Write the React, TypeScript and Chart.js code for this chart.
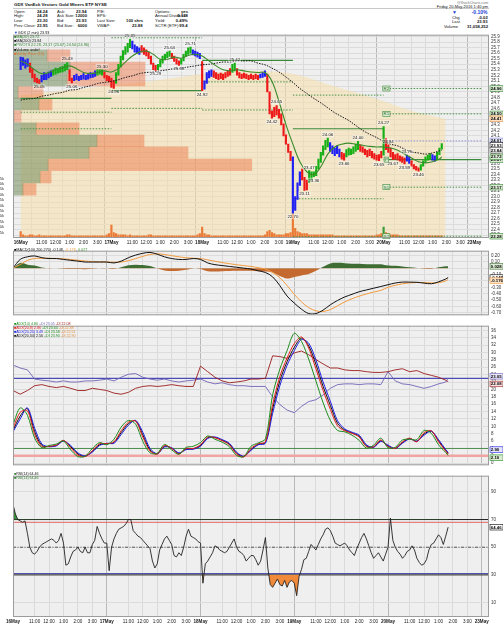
import React, { useEffect, useRef } from 'react';
import { Chart, registerables } from 'chart.js';

Chart.register(...registerables);

const FONT = "'Liberation Sans', Arial, sans-serif";
Chart.defaults.font.family = FONT;

/* ---------------- time axis ---------------- */
const DAY_LABELS = ['16May', '17May', '18May', '19May', '20May', '23May'];
const HOUR_LABELS = ['11:00', '12:00', '1:00', '2:00', '3:00'];
const HOUR_OFFSETS = [1.5, 2.5, 3.5, 4.5, 5.5];
const SESSION = 6.5; // trading hours per day
const X_MAX = 33;
const BARS_PER_DAY = [39, 39, 39, 39, 26]; // 10-minute bars
const SAMPLES_PER_DAY = [13, 13, 13, 13, 10]; // 30-minute samples
const LAST_HOUR = 4 + 10 / 60; // 1:40 pm

/* ---------------- price (10-minute bars) ---------------- */
const PRICE_HIGH = [
  25.53, 25.52, 25.48, 25.50, 25.42, 25.32, 25.22, 25.15, 25.12, 25.20, 25.25, 25.22, 25.26, 25.28, 25.30, 25.33, 25.32, 25.35, 25.36, 25.40, 25.43, 25.30, 25.15, 25.20, 25.22, 25.18, 25.20, 25.23, 25.20, 25.22, 25.25, 25.24, 25.28, 25.30, 25.30, 25.30, 25.26, 25.20, 25.18,
  25.15, 25.10, 25.25, 25.40, 25.55, 25.65, 25.72, 25.78, 25.85, 25.82, 25.75, 25.72, 25.70, 25.74, 25.70, 25.66, 25.62, 25.55, 25.42, 25.38, 25.40, 25.48, 25.55, 25.58, 25.62, 25.64, 25.60, 25.55, 25.50, 25.46, 25.50, 25.58, 25.64, 25.70, 25.71, 25.66, 25.64, 25.62, 25.60,
  25.45, 25.10, 25.25, 25.28, 25.30, 25.28, 25.25, 25.22, 25.24, 25.22, 25.25, 25.28, 25.32, 25.40, 25.42, 25.32, 25.25, 25.22, 25.24, 25.22, 25.20, 25.22, 25.20, 25.22, 25.20, 25.22, 25.25, 25.28, 25.22, 24.90, 24.55, 24.62, 24.65, 24.58, 24.50, 24.32, 24.12, 23.95, 23.82,
  23.72, 23.00, 23.25, 23.45, 23.50, 23.35, 23.30, 23.47, 23.45, 23.45, 23.55, 23.68, 23.80, 23.92, 24.02, 24.06, 23.98, 23.92, 23.88, 23.92, 23.86, 23.80, 23.78, 23.85, 23.88, 23.86, 23.90, 23.95, 24.00, 23.94, 23.90, 23.86, 23.84, 23.86, 23.82, 23.78, 23.75, 23.76, 23.82,
  24.27, 24.05, 23.94, 23.88, 23.80, 23.76, 23.78, 23.74, 23.72, 23.70, 23.75, 23.72, 23.65, 23.58, 23.55, 23.52, 23.58, 23.65, 23.72, 23.75, 23.78, 23.76, 23.74, 23.80, 23.88, 23.96,
];
const PRICE_LOW = [
  25.30, 25.38, 25.33, 25.36, 25.25, 25.15, 25.08, 25.06, 25.05, 25.08, 25.12, 25.12, 25.15, 25.18, 25.20, 25.22, 25.24, 25.25, 25.26, 25.28, 25.30, 25.10, 25.06, 25.10, 25.12, 25.10, 25.12, 25.13, 25.12, 25.13, 25.15, 25.16, 25.18, 25.20, 25.22, 25.20, 25.15, 25.10, 25.08,
  24.98, 24.96, 25.05, 25.20, 25.35, 25.48, 25.58, 25.62, 25.70, 25.68, 25.62, 25.60, 25.58, 25.62, 25.58, 25.55, 25.50, 25.40, 25.30, 25.29, 25.30, 25.35, 25.42, 25.48, 25.52, 25.54, 25.50, 25.45, 25.40, 25.38, 25.40, 25.46, 25.54, 25.58, 25.60, 25.57, 25.55, 25.53, 25.50,
  24.92, 24.95, 25.05, 25.15, 25.18, 25.16, 25.14, 25.12, 25.14, 25.12, 25.15, 25.18, 25.20, 25.25, 25.28, 25.20, 25.15, 25.14, 25.15, 25.14, 25.12, 25.14, 25.12, 25.14, 25.12, 25.15, 25.16, 25.18, 24.90, 24.50, 24.42, 24.45, 24.48, 24.42, 24.30, 24.10, 23.95, 23.80, 23.65,
  22.70, 22.75, 22.95, 23.20, 23.30, 23.11, 23.12, 23.25, 23.30, 23.36, 23.38, 23.50, 23.62, 23.75, 23.85, 23.90, 23.82, 23.78, 23.74, 23.78, 23.72, 23.68, 23.66, 23.72, 23.75, 23.76, 23.78, 23.82, 23.85, 23.82, 23.80, 23.76, 23.72, 23.74, 23.70, 23.68, 23.66, 23.65, 23.70,
  23.75, 23.85, 23.80, 23.72, 23.67, 23.68, 23.66, 23.64, 23.62, 23.59, 23.64, 23.60, 23.55, 23.50, 23.48, 23.46, 23.48, 23.55, 23.62, 23.66, 23.68, 23.66, 23.64, 23.68, 23.76, 23.86,
];
// Elder-impulse bar colours: g = green, r = red, b = blue
const IMPULSE =
  'bbbbrrrrrbbbbbgggggggrrbbbbbbbbbbgggrrr' +
  'rrgggggggbbbbrrrrrrrggggggrrrrgggggbbbb' +
  'rbbbbrrrrrrrrggrrrrrrrrrrbbbrrrrrrrrrrr' +
  'bbbbrrrgggggggggbbbbbrrggggggrrrrrrrrrr' +
  'grrrrrrrrrbbrrrrgggggbbggg';
const VOLUME_K = [
  6, 3, 2, 2, 3, 3, 2, 2, 3, 2, 2, 2, 2, 2, 2, 2, 2, 2, 2, 2, 3, 3, 2, 2, 2, 2, 2, 2, 2, 2, 2, 2, 2, 2, 2, 2, 2, 3, 4,
  12, 5, 4, 3, 3, 3, 3, 2, 3, 2, 2, 2, 2, 2, 2, 2, 3, 3, 2, 2, 2, 2, 2, 2, 2, 2, 2, 2, 2, 2, 2, 2, 2, 2, 2, 2, 2, 3, 4,
  10, 4, 3, 3, 2, 2, 2, 2, 2, 2, 2, 2, 2, 2, 2, 2, 2, 2, 2, 2, 2, 2, 2, 2, 2, 2, 2, 3, 6, 7, 5, 4, 3, 3, 3, 3, 4, 4, 5,
  22, 9, 6, 5, 4, 4, 4, 3, 3, 3, 3, 3, 3, 3, 3, 3, 3, 3, 2, 2, 2, 2, 2, 2, 2, 2, 2, 2, 2, 2, 2, 2, 2, 2, 2, 2, 3, 3, 4,
  10, 5, 4, 3, 3, 3, 3, 2, 2, 2, 2, 2, 2, 2, 2, 2, 2, 2, 2, 2, 2, 2, 2, 2, 2, 2,
];
const RSI_14 = [
  81, 74, 70, 69, 68, 69, 60, 50, 46, 45, 47, 50, 52, 53, 54, 55, 56, 55, 53, 55, 60, 53, 37, 38, 43, 47, 48, 50, 47, 46, 50, 46, 46, 52, 55, 65, 60, 56, 53,
  53, 33, 50, 56, 60, 63, 64, 65, 67, 70, 70, 62, 60, 58, 57, 55, 53, 51, 49, 40, 35, 38, 48, 52, 56, 58, 55, 52, 44, 43, 46, 44, 50, 58, 63, 58, 57, 56, 54,
  53, 24, 38, 40, 43, 46, 51, 50, 48, 47, 46, 47, 50, 53, 56, 50, 47, 46, 44, 40, 42, 44, 44, 41, 37, 40, 48, 57, 35, 23, 21, 24, 27, 23, 22, 26, 21, 25, 26,
  24, 15, 29, 34, 41, 42, 47, 52, 50, 48, 52, 56, 59, 63, 64, 62, 58, 53, 52, 51, 52, 53, 51, 48, 46, 44, 49, 53, 57, 60, 56, 51, 46, 42, 44, 46, 43, 40, 45,
  50, 71, 55, 50, 47, 45, 42, 44, 47, 48, 51, 48, 42, 39, 37, 38, 41, 48, 52, 53, 56, 59, 57, 52, 58, 64.46,
];

/* ---------------- 30-minute samples ---------------- */
const MA_20 = [
  25.46, 25.40, 25.30, 25.23, 25.25, 25.30, 25.33, 25.37, 25.32, 25.25, 25.23, 25.25, 25.28,
  25.26, 25.32, 25.44, 25.55, 25.62, 25.64, 25.58, 25.49, 25.49, 25.53, 25.51, 25.56, 25.58,
  25.55, 25.46, 25.37, 25.30, 25.28, 25.30, 25.28, 25.26, 25.25, 25.25, 25.09, 24.73, 24.31,
  23.95, 23.63, 23.45, 23.40, 23.54, 23.77, 23.90, 23.95, 23.97, 23.95, 23.93, 23.91, 23.90,
  23.90, 23.88, 23.84, 23.77, 23.70, 23.63, 23.61, 23.63, 23.68, 23.72,
];
const MA_200 = [
  24.75, 24.77, 24.78, 24.82, 24.84, 24.87, 24.89, 24.93, 24.94, 24.98, 25.01, 25.05, 25.07,
  25.09, 25.12, 25.16, 25.19, 25.23, 25.25, 25.26, 25.28, 25.30, 25.32, 25.33, 25.35, 25.37,
  25.39, 25.40, 25.42, 25.44, 25.44, 25.46, 25.46, 25.46, 25.42, 25.39, 25.33, 25.26, 25.17,
  25.07, 24.96, 24.87, 24.78, 24.70, 24.61, 24.52, 24.45, 24.38, 24.29, 24.20, 24.13, 24.07,
  24.00, 23.95, 23.92, 23.86, 23.81, 23.79, 23.77, 23.79, 23.83, 23.84,
];
const MACD_LINE = [
  0, 0.137, 0.178, 0.192, 0.164, 0.151, 0.151, 0.137, 0.123, 0.110, 0.096, 0.096, 0.096,
  0.096, 0.082, 0.110, 0.164, 0.205, 0.233, 0.247, 0.219, 0.178, 0.151, 0.137, 0.137, 0.151,
  0.137, 0.082, 0.055, 0.041, 0.027, 0.014, 0, -0.014, -0.041, -0.068, -0.137, -0.274, -0.438,
  -0.548, -0.644, -0.712, -0.712, -0.658, -0.575, -0.507, -0.452, -0.411, -0.370, -0.342, -0.315, -0.288,
  -0.260, -0.233, -0.219, -0.219, -0.222, -0.235, -0.245, -0.215, -0.170, -0.148,
];
const MACD_SIGNAL = [
  0, 0.055, 0.123, 0.151, 0.155, 0.155, 0.152, 0.146, 0.136, 0.124, 0.112, 0.104, 0.098,
  0.096, 0.094, 0.096, 0.118, 0.150, 0.185, 0.215, 0.226, 0.214, 0.196, 0.178, 0.163, 0.155,
  0.150, 0.130, 0.108, 0.088, 0.070, 0.054, 0.040, 0.026, 0.008, -0.015, -0.068, -0.150, -0.274,
  -0.411, -0.530, -0.620, -0.670, -0.680, -0.650, -0.590, -0.530, -0.480, -0.440, -0.405, -0.375, -0.350,
  -0.300, -0.270, -0.245, -0.232, -0.225, -0.225, -0.232, -0.228, -0.200, -0.176,
];
const ADX_GREEN = [
  10.5, 15.0, 13.0, 6.8, 4.2, 4.8, 5.2, 6.0, 3.6, 1.8, 1.9, 4.0, 5.6,
  5.0, 6.5, 9.8, 11.6, 10.6, 5.9, 2.8, 2.7, 5.1, 3.6, 2.4, 4.3, 4.6,
  5.6, 7.4, 6.5, 5.7, 4.5, 2.1, 1.8, 4.6, 5.5, 6.6, 18.5, 25.5, 30.5,
  35.2, 33.0, 28.2, 22.3, 16.4, 11.6, 8.9, 8.5, 7.6, 6.2, 4.1, 4.9, 6.8,
  4.2, 4.3, 6.3, 6.5, 6.4, 8.9, 8.1, 5.0, 2.9, 2.1,
];
const ADX_RED = [
  9.5, 13.8, 14.2, 7.8, 4.5, 4.6, 4.9, 6.2, 4.2, 2.2, 1.8, 3.4, 5.3,
  5.3, 5.8, 8.8, 11.1, 11.4, 7.1, 3.3, 2.5, 4.8, 4.0, 2.5, 4.0, 4.0,
  5.0, 7.1, 6.9, 6.1, 5.0, 2.5, 1.7, 4.0, 5.3, 5.8, 15.9, 23.5, 28.5,
  32.4, 34.2, 31.2, 25.6, 19.7, 14.6, 10.1, 8.8, 8.1, 7.1, 4.5, 4.5, 6.3,
  4.5, 4.0, 5.8, 6.8, 5.8, 8.3, 8.8, 5.8, 3.3, 2.5,
];
const ADX_BLUE = [
  8.5, 12.0, 15.0, 9.5, 5.2, 4.5, 4.7, 6.0, 4.8, 2.8, 2.0, 3.0, 4.8,
  5.4, 5.4, 7.8, 10.3, 11.6, 8.4, 4.0, 2.6, 4.4, 4.2, 2.8, 3.7, 3.8,
  4.6, 6.7, 7.1, 6.4, 5.4, 3.0, 1.9, 3.5, 5.0, 5.4, 13.5, 21.0, 26.5,
  30.5, 33.5, 32.5, 28.0, 22.0, 16.8, 11.5, 9.3, 8.4, 7.6, 5.0, 4.3, 5.9,
  4.9, 4.0, 5.4, 6.6, 6.0, 7.6, 8.7, 6.4, 3.7, 2.9,
];
const ADX_BLACK = [
  8.8, 12.8, 14.8, 8.6, 4.8, 4.5, 4.8, 6.1, 4.5, 2.5, 1.9, 3.2, 5.0,
  5.3, 5.6, 8.3, 10.7, 11.5, 7.7, 3.6, 2.5, 4.6, 4.1, 2.6, 3.8, 3.9,
  4.8, 6.9, 7.0, 6.2, 5.2, 2.7, 1.8, 3.7, 5.1, 5.6, 14.7, 22.3, 27.5,
  31.4, 33.9, 31.8, 26.8, 20.8, 15.7, 10.8, 9.0, 8.2, 7.3, 4.7, 4.4, 6.1,
  4.7, 4.0, 5.6, 6.7, 5.9, 7.9, 8.7, 6.1, 3.5, 2.7,
];
const PLUS_DI = [
  26.6, 25.8, 25.3, 22.8, 22.5, 22.3, 22.0, 22.3, 22.0, 22.0, 22.3, 22.3, 22.5,
  22.8, 22.3, 23.3, 24.1, 24.3, 23.3, 22.8, 22.5, 22.8, 22.3, 22.0, 22.3, 22.5,
  22.8, 22.0, 21.5, 21.8, 21.3, 21.0, 21.0, 20.8, 20.8, 20.8, 18.0, 15.9, 14.4,
  13.7, 15.4, 16.7, 17.2, 18.5, 20.3, 21.3, 21.5, 21.5, 21.3, 21.5, 21.5, 21.3,
  24.8, 22.3, 21.5, 21.3, 20.8, 20.3, 20.8, 21.5, 22.0, 23.05,
];
const MINUS_DI = [
  19.7, 18.7, 19.7, 21.0, 21.3, 20.8, 20.5, 20.8, 20.3, 19.7, 19.7, 20.3, 20.0,
  19.7, 19.0, 18.7, 19.2, 20.3, 20.8, 21.0, 20.8, 21.0, 21.3, 21.0, 20.8, 20.8,
  26.3, 24.8, 23.3, 22.3, 21.8, 22.0, 22.3, 22.8, 22.8, 23.0, 29.1, 28.9, 28.4,
  29.9, 30.4, 29.4, 28.1, 26.9, 25.8, 25.8, 25.3, 25.1, 25.1, 24.8, 24.6, 24.6,
  24.8, 25.3, 25.6, 24.8, 25.1, 24.3, 23.8, 23.3, 22.5, 22.08,
];

/* ---------------- shaded price area (hours, price) ---------------- */
const SHADE_T = [0, 8.2, 16.44, 19.42, 22.2, 25.66, 28.02, 30.44];
const SHADE_V = [24.84, 25.06, 25.28, 25.23, 25.02, 24.76, 24.55, 24.41];

/* ---------------- volume by price ---------------- */
const VBP_CENTER = [23.01, 23.26, 23.51, 23.76, 24.00, 24.25, 24.50, 24.75, 24.99, 25.24, 25.49, 25.74];
const VBP_UP = [1.05, 2.84, 3.68, 7.98, 8.82, 2.42, 0.1, 2.73, 0.53, 5.67, 5.99, 3.57];
const VBP_DOWN = [1.37, 1.16, 21.4, 10.4, 4.94, 4.52, 0.74, 1.37, 2.63, 8.19, 7.88, 2.42];

/* ---------------- pivot lines ---------------- */
const PIVOT_DAY = [0, 0, 0, 1, 1, 1, 2, 2, 2, 3, 3, 3, 3, 4, 4, 4, 4, 4];
const PIVOT_VALUE = [24.78, 24.53, 24.23, 25.88, 24.92, 24.60, 25.47, 25.08, 24.57, 24.84, 24.23, 22.96, 22.27, 24.96, 24.50, 23.67, 23.17, 22.28];
const PIVOT_SOLID = [1, 0, 0, 0, 1, 0, 1, 0, 0, 0, 1, 0, 0, 0, 0, 1, 0, 0];
const PIVOT_NAMES = ['R2', 'R1', 'P', 'S1', 'S2'];
const PREV_CLOSE = 24.01;
const LAST_PRICE = 23.93;

// [day, minutes after open, price, above(1)/below(0)]
const PRICE_NOTES = [
  [0, 80, 25.05, 0], [0, 200, 25.43, 1], [0, 220, 25.06, 0], [0, 350, 25.30, 1],
  [1, 10, 24.96, 0], [1, 80, 25.85, 1], [1, 190, 25.29, 0], [1, 250, 25.64, 1], [1, 290, 25.38, 0], [1, 340, 25.71, 1],
  [2, 0, 24.92, 0], [2, 140, 25.42, 1], [2, 300, 24.42, 0], [2, 320, 24.65, 1],
  [3, 0, 22.70, 0], [3, 50, 23.11, 0], [3, 70, 23.47, 1], [3, 90, 23.36, 0], [3, 150, 24.06, 1], [3, 220, 23.66, 0], [3, 280, 24.00, 1], [3, 370, 23.65, 0],
  [4, 0, 24.27, 1], [4, 20, 23.94, 1], [4, 40, 23.67, 0], [4, 90, 23.59, 0], [4, 100, 23.75, 1], [4, 150, 23.46, 0],
];

/* ---------------- axis ticks ---------------- */
const PRICE_TICKS = [22.3, 22.4, 22.5, 22.6, 22.7, 22.8, 22.9, 23.0, 23.1, 23.2, 23.3, 23.4, 23.5, 23.6, 23.7, 23.8, 23.9, 24.0, 24.1, 24.2, 24.3, 24.4, 24.5, 24.6, 24.7, 24.8, 24.9, 25.0, 25.1, 25.2, 25.3, 25.4, 25.5, 25.6, 25.7, 25.8, 25.9];
const VOL_TICKS = [5, 10, 15, 20, 25, 30, 35, 40, 45, 50, 55];
const MACD_TICKS = [-0.7, -0.6, -0.5, -0.4, -0.3, -0.2, -0.1, 0, 0.1, 0.2];
const ADX_TICKS = [0, 2, 4, 6, 8, 10, 12, 14, 16, 18, 20, 22, 24, 26, 28, 30, 32, 34, 36];
const RSI_TICKS = [10, 30, 50, 70, 90];
const ADX_LEVELS = [23, 4, 2];
const RSI_LEVELS = [70, 68, 50, 31, 30];

/* ---------------- derived series ---------------- */
const BAR_T: number[] = [];
BARS_PER_DAY.forEach((n, d) => { for (let i = 0; i < n; i++) BAR_T.push(d * SESSION + i / 6); });
const SAMPLE_T: number[] = [];
SAMPLES_PER_DAY.forEach((n, d) => {
  for (let k = 0; k < n; k++) SAMPLE_T.push(d * SESSION + (d === 4 && k === n - 1 ? LAST_HOUR : k * 0.5));
});
const MACD_HIST = MACD_LINE.map((v, i) => v - MACD_SIGNAL[i]);
const pts = (ts: number[], vs: number[]) => vs.map((v, i) => ({ x: ts[i], y: v }));

const X_TICKS: number[] = [];
DAY_LABELS.forEach((_, d) => {
  X_TICKS.push(d * SESSION);
  if (d < DAY_LABELS.length - 1) HOUR_OFFSETS.forEach((h) => X_TICKS.push(d * SESSION + h));
});
const isDay = (v: number) => v !== undefined && Math.abs(v / SESSION - Math.round(v / SESSION)) < 1e-6;
function xLabel(v: number) {
  const d = Math.round(v / SESSION);
  if (isDay(v)) return DAY_LABELS[d] || '';
  const dd = Math.floor(v / SESSION);
  const k = HOUR_OFFSETS.findIndex((h) => Math.abs(dd * SESSION + h - v) < 1e-6);
  return k >= 0 ? HOUR_LABELS[k] : '';
}

/* ---------------- colours ---------------- */
const C = {
  panel: '#efefef',
  grid: '#dcdcdc',
  green: '#3b8a3b',
  impulse: { g: '#16b016', r: '#ee1818', b: '#2020f4' } as any,
};

/* ---------------- plugins ---------------- */
function panelPlugin(o: any) {
  return {
    id: 'panel',
    beforeDraw(chart: any) {
      const { ctx, chartArea: a } = chart;
      ctx.save();
      ctx.fillStyle = o.bg;
      ctx.fillRect(a.left, a.top, a.right - a.left, a.bottom - a.top);
      ctx.restore();
    },
    afterDatasetsDraw(chart: any) {
      const notes = o.notes || [];
      if (!notes.length) return;
      const { ctx } = chart;
      const xs = chart.scales.x;
      const ys = chart.scales[o.yId || 'y'];
      ctx.save();
      ctx.font = `4.4px ${FONT}`;
      ctx.textAlign = 'center';
      ctx.textBaseline = 'middle';
      for (const n of notes) {
        const x = xs.getPixelForValue(n.t);
        const yv = ys.getPixelForValue(n.v);
        const w = ctx.measureText(n.text).width + 1.6;
        const h = 5;
        const y = n.pos === 'a' ? yv - 1 - h : n.pos === 'b' ? yv + 1 : yv - h / 2;
        ctx.fillStyle = n.box ? '#dcebd4' : 'rgba(255,255,255,0.45)';
        ctx.fillRect(x - w / 2, y, w, h);
        if (n.box) {
          ctx.strokeStyle = n.box;
          ctx.lineWidth = 0.6;
          ctx.strokeRect(x - w / 2, y, w, h);
        }
        ctx.fillStyle = n.color || '#222';
        ctx.fillText(n.text, x, y + h / 2 + 0.2);
      }
      ctx.restore();
    },
    afterDraw(chart: any) {
      const { ctx, chartArea: a } = chart;
      const ys = chart.scales[o.yId || 'y'];
      ctx.save();
      ctx.strokeStyle = '#9c9c9c';
      ctx.lineWidth = 1;
      ctx.strokeRect(a.left + 0.5, a.top + 0.5, a.right - a.left - 1, a.bottom - a.top - 1);
      ctx.font = `bold 4.3px ${FONT}`;
      ctx.textAlign = 'left';
      ctx.textBaseline = 'middle';
      for (const tg of o.tags || []) {
        const y = ys.getPixelForValue(tg.v);
        ctx.fillStyle = tg.bg;
        ctx.fillRect(a.right + 1, y - 2.8, 13, 5.6);
        ctx.strokeStyle = tg.border || '#000';
        ctx.lineWidth = 0.6;
        ctx.strokeRect(a.right + 1, y - 2.8, 13, 5.6);
        ctx.fillStyle = tg.fg || '#000';
        ctx.fillText(tg.text, a.right + 1.8, y + 0.3);
      }
      ctx.restore();
    },
  };
}

/* ---------------- scale helpers ---------------- */
function makeX(showLabels: boolean) {
  return {
    type: 'linear', axis: 'x', position: 'bottom', min: 0, max: X_MAX,
    afterBuildTicks: (s: any) => { s.ticks = X_TICKS.map((v) => ({ value: v })); },
    ticks: {
      display: showLabels, autoSkip: false, maxRotation: 0, minRotation: 0, padding: 1.5, color: '#222',
      font: (c: any) => ({ family: FONT, size: 4.6, weight: c.tick && isDay(c.tick.value) ? 'bold' : 'normal' }),
      callback: (v: any) => xLabel(Number(v)),
    },
    grid: { drawTicks: false, lineWidth: 1, color: (c: any) => (c.tick && isDay(c.tick.value) ? '#b9b9b9' : '#dadada') },
    border: { display: false },
    afterFit: (s: any) => { s.height = showLabels ? 8 : 0; },
  };
}
function makeY(min: number, max: number, ticks: number[], fmt: (v: number) => string, grid = true) {
  return {
    type: 'linear', axis: 'y', position: 'right', min, max,
    afterBuildTicks: (s: any) => { s.ticks = ticks.map((v) => ({ value: v })); },
    ticks: { autoSkip: false, padding: 2, color: '#333', font: { family: FONT, size: 4.5 }, callback: (v: any) => fmt(Number(v)) },
    grid: { display: grid, drawTicks: false, color: C.grid, lineWidth: 1 },
    border: { display: false },
    afterFit: (s: any) => { s.width = 14; },
  };
}
const hLine = (t0: number, t1: number, v: number, color: string, width: number, dash: number[], order: number, yAxisID = 'y') => ({
  type: 'line', data: [{ x: t0, y: v }, { x: t1, y: v }], borderColor: color, borderWidth: width, borderDash: dash,
  pointRadius: 0, fill: false, order, xAxisID: 'x', yAxisID,
});
const baseOptions = (padLeft: number) => ({
  responsive: false, animation: false, maintainAspectRatio: false, events: [],
  layout: { padding: { left: padLeft, right: 0, top: 0, bottom: 0 }, autoPadding: false },
  plugins: { legend: { display: false }, tooltip: { enabled: false } },
  elements: { point: { radius: 0 } },
});

/* ---------------- panel geometry ---------------- */
const W = 503;
const MAIN = { top: 30, h: 216, min: 22.248, max: 25.936 };
const MACD = { top: 246, h: 74, min: -0.740, max: 0.274 };
const ADX = { top: 321, h: 149, min: -0.56, max: 37.26 };
const RSI = { top: 471, h: 154, min: -0.42, max: 101.68 };
const VOL_MAX = 187.6;
const VBP_MAX = 50;

/* ---------------- configs ---------------- */
function mainConfig(): any {
  const greenTag = (v: number) => ({ v, text: v.toFixed(2), bg: '#dcebd4', border: C.green });
  const day4Pivots = PIVOT_VALUE.filter((_, i) => PIVOT_DAY[i] === 4);
  const tags = [
    ...day4Pivots.map(greenTag),
    { v: SHADE_V[SHADE_V.length - 1], text: SHADE_V[SHADE_V.length - 1].toFixed(2), bg: '#fde3c8', border: '#e28a3c' },
    { v: PREV_CLOSE, text: PREV_CLOSE.toFixed(2), bg: '#e8e8fb', border: '#8c8cdc' },
    { v: LAST_PRICE, text: LAST_PRICE.toFixed(2), bg: '#ffffff', border: '#000' },
    { v: MA_200[MA_200.length - 1], text: MA_200[MA_200.length - 1].toFixed(2), bg: '#f4f4f4', border: '#555' },
    greenTag(MA_20[MA_20.length - 1]),
  ];
  const notes: any[] = PRICE_NOTES.map(([d, m, v, a]) => ({ t: d * SESSION + m / 60, v, text: v.toFixed(2), pos: a ? 'a' : 'b' }));
  day4Pivots.forEach((v, i) => notes.push({ t: 4 * SESSION + 0.2, v, text: PIVOT_NAMES[i], pos: 'm', box: C.green, color: '#2d6e2d' }));

  const pivots = PIVOT_VALUE.map((v, i) => {
    const d = PIVOT_DAY[i];
    const t1 = d === 4 ? X_MAX : (d + 1) * SESSION;
    return hLine(d * SESSION, t1, v, C.green, PIVOT_SOLID[i] ? 1.2 : 0.9, PIVOT_SOLID[i] ? [] : [1.5, 1.5], 30);
  });

  return {
    type: 'line',
    data: {
      datasets: [
        { type: 'line', label: 'MA(20)', data: pts(SAMPLE_T, MA_20), borderColor: '#3a8a2a', borderWidth: 1.1, tension: 0.35, pointRadius: 0, fill: false, order: 10, xAxisID: 'x', yAxisID: 'y' },
        { type: 'line', label: 'MA(200)', data: pts(SAMPLE_T, MA_200), borderColor: '#1a1a1a', borderWidth: 1, borderDash: [1.5, 1.2], tension: 0.35, pointRadius: 0, fill: false, order: 11, xAxisID: 'x', yAxisID: 'y' },
        {
          type: 'bar', label: 'GDX', data: BAR_T.map((t, i) => ({ x: t, y: [PRICE_LOW[i], PRICE_HIGH[i]] })),
          backgroundColor: BAR_T.map((_, i) => C.impulse[IMPULSE[i]]), barThickness: 1.5, grouped: false, order: 20, xAxisID: 'x', yAxisID: 'y',
        },
        ...pivots,
        hLine(4 * SESSION, X_MAX, PREV_CLOSE, '#8c8cdc', 0.9, [1.5, 1.5], 29),
        {
          type: 'bar', label: 'Volume', data: BAR_T.map((t, i) => ({ x: t, y: VOLUME_K[i] })),
          backgroundColor: BAR_T.map((t) => (Math.abs(t - 4 * SESSION) < 1e-6 ? '#3a9a3a' : '#ea7a35')),
          barThickness: 1.5, grouped: false, order: 35, xAxisID: 'x', yAxisID: 'yvol',
        },
        {
          type: 'bar', label: 'VBP up', indexAxis: 'y', data: VBP_CENTER.map((c, i) => ({ x: VBP_UP[i], y: c })), stack: 'vbp', grouped: false,
          backgroundColor: 'rgba(96,126,72,0.48)', barPercentage: 1, categoryPercentage: 1, order: 40, xAxisID: 'xv', yAxisID: 'yv',
        },
        {
          type: 'bar', label: 'VBP down', indexAxis: 'y', data: VBP_CENTER.map((c, i) => ({ x: VBP_DOWN[i], y: c })), stack: 'vbp', grouped: false,
          backgroundColor: 'rgba(238,112,62,0.45)', barPercentage: 1, categoryPercentage: 1, order: 41, xAxisID: 'xv', yAxisID: 'yv',
        },
        {
          type: 'line', label: 'area', data: pts(SHADE_T, SHADE_V), borderWidth: 0, borderColor: 'rgba(0,0,0,0)',
          backgroundColor: 'rgba(246,222,170,0.55)', fill: 'start', cubicInterpolationMode: 'monotone', pointRadius: 0, order: 50, xAxisID: 'x', yAxisID: 'y',
        },
      ],
    },
    options: {
      ...baseOptions(0),
      scales: {
        x: makeX(true),
        xv: { type: 'linear', axis: 'x', position: 'bottom', display: false, min: 0, max: VBP_MAX },
        y: makeY(MAIN.min, MAIN.max, PRICE_TICKS, (v) => v.toFixed(1)),
        yv: { type: 'linear', axis: 'y', position: 'right', display: false, min: MAIN.min, max: MAIN.max },
        yvol: {
          type: 'linear', axis: 'y', position: 'left', min: 0, max: VOL_MAX,
          afterBuildTicks: (s: any) => { s.ticks = VOL_TICKS.map((v) => ({ value: v })); },
          ticks: { autoSkip: false, padding: 1, color: '#333', font: { family: FONT, size: 4 }, callback: (v: any) => `${v}k` },
          grid: { display: false }, border: { display: false },
          afterFit: (s: any) => { s.width = 13; },
        },
      },
    },
    plugins: [panelPlugin({ bg: C.panel, tags, notes })],
  };
}

function macdConfig(): any {
  return {
    type: 'line',
    data: {
      datasets: [
        { label: 'MACD', data: pts(SAMPLE_T, MACD_LINE), borderColor: '#111', borderWidth: 1, tension: 0.35, pointRadius: 0, fill: false, order: 1 },
        { label: 'Signal', data: pts(SAMPLE_T, MACD_SIGNAL), borderColor: '#f39a3c', borderWidth: 1, tension: 0.35, pointRadius: 0, fill: false, order: 2 },
        {
          label: 'Histogram', data: pts(SAMPLE_T, MACD_HIST), borderWidth: 0, borderColor: 'rgba(0,0,0,0)', tension: 0.35, pointRadius: 0,
          fill: { target: 'origin', above: '#3e6d33', below: '#c4692f' }, order: 3,
        },
      ],
    },
    options: {
      ...baseOptions(13),
      scales: { x: makeX(false), y: makeY(MACD.min, MACD.max, MACD_TICKS, (v) => v.toFixed(2)) },
    },
    plugins: [panelPlugin({
      bg: C.panel,
      tags: [
        { v: MACD_HIST[MACD_HIST.length - 1], text: MACD_HIST[MACD_HIST.length - 1].toFixed(3), bg: '#dcebd4', border: '#3e6d33' },
        { v: MACD_LINE[MACD_LINE.length - 1], text: MACD_LINE[MACD_LINE.length - 1].toFixed(3), bg: '#fff', border: '#000' },
        { v: MACD_SIGNAL[MACD_SIGNAL.length - 1] - 0.02, text: MACD_SIGNAL[MACD_SIGNAL.length - 1].toFixed(3), bg: '#fde3c8', border: '#f39a3c' },
      ],
    })],
  };
}

function adxConfig(): any {
  const line = (label: string, data: number[], color: string, width: number, order: number, tension = 0.3) => ({
    label, data: pts(SAMPLE_T, data), borderColor: color, borderWidth: width, tension, pointRadius: 0, fill: false, order,
  });
  const levelColors = ['#4b4bb4', '#4c8c4c', '#f2a3a3'];
  const levelWidths = [1.3, 1, 2.5];
  return {
    type: 'line',
    data: {
      datasets: [
        line('ADX green', ADX_GREEN, '#1e8c1e', 1, 1),
        line('ADX red', ADX_RED, '#e41e1e', 1, 2),
        line('ADX blue', ADX_BLUE, '#1e1ee4', 1, 3),
        line('ADX black', ADX_BLACK, '#111', 1, 4),
        line('+DI', PLUS_DI, '#7064b8', 0.9, 6, 0),
        line('-DI', MINUS_DI, '#9b1c1c', 0.9, 5, 0),
        ...ADX_LEVELS.map((v, i) => hLine(0, X_MAX, v, levelColors[i], levelWidths[i], [], 10 + i)),
      ],
    },
    options: {
      ...baseOptions(13),
      scales: { x: makeX(false), y: makeY(ADX.min, ADX.max, ADX_TICKS, (v) => String(v)) },
    },
    plugins: [panelPlugin({
      bg: C.panel,
      tags: [
        { v: PLUS_DI[PLUS_DI.length - 1] + 0.5, text: PLUS_DI[PLUS_DI.length - 1].toFixed(2), bg: '#e8e6fb', border: '#7064b8' },
        { v: MINUS_DI[MINUS_DI.length - 1] - 0.6, text: MINUS_DI[MINUS_DI.length - 1].toFixed(2), bg: '#fbe0e0', border: '#9b1c1c' },
        { v: ADX_BLUE[ADX_BLUE.length - 1] + 0.8, text: ADX_BLUE[ADX_BLUE.length - 1].toFixed(2), bg: '#e4e4fb', border: '#1e1ee4' },
        { v: ADX_GREEN[ADX_GREEN.length - 1] - 0.6, text: ADX_GREEN[ADX_GREEN.length - 1].toFixed(2), bg: '#dcebd4', border: '#1e8c1e' },
      ],
    })],
  };
}

function rsiConfig(): any {
  const levelColors = ['#222', '#e06666', '#555', '#5050b0', '#222'];
  const levelDash = [[], [], [3, 1.5, 1, 1.5], [], []];
  return {
    type: 'line',
    data: {
      datasets: [
        {
          label: 'RSI', data: pts(BAR_T, RSI_14), borderColor: '#222', borderWidth: 0.9, tension: 0, pointRadius: 0,
          fill: { target: { value: 30 }, above: 'rgba(0,0,0,0)', below: '#f08a3a' }, order: 1,
        },
        {
          label: 'RSI>70', data: pts(BAR_T, RSI_14), borderWidth: 0, borderColor: 'rgba(0,0,0,0)', tension: 0, pointRadius: 0,
          fill: { target: { value: 70 }, above: '#3c8c3c', below: 'rgba(0,0,0,0)' }, order: 2,
        },
        ...RSI_LEVELS.map((v, i) => hLine(0, X_MAX, v, levelColors[i], 1, levelDash[i], 10 + i)),
      ],
    },
    options: {
      ...baseOptions(13),
      scales: { x: makeX(true), y: makeY(RSI.min, RSI.max, RSI_TICKS, (v) => String(v)) },
    },
    plugins: [panelPlugin({
      bg: C.panel,
      tags: [{ v: RSI_14[RSI_14.length - 1], text: RSI_14[RSI_14.length - 1].toFixed(2), bg: '#fff', border: '#000' }],
    })],
  };
}

/* ---------------- tiny text ---------------- */
function T(p: { x: number; y: number; s?: number; c?: string; b?: boolean; r?: boolean; children: any }) {
  const k = 3;
  const s = p.s || 4.2;
  const style: any = {
    position: 'absolute', top: p.y, whiteSpace: 'nowrap', fontFamily: FONT, fontSize: s * k, lineHeight: 1,
    color: p.c || '#111', fontWeight: p.b ? 'bold' : 'normal', transform: `scale(${1 / k})`,
  };
  if (p.r) { style.right = W - p.x; style.transformOrigin = '100% 0'; } else { style.left = p.x; style.transformOrigin = '0 0'; }
  return <div style={style}>{p.children}</div>;
}
const Sq = ({ c }: { c: string }) => <span style={{ color: c }}>■</span>;

export default function App() {
  const mainRef = useRef<HTMLCanvasElement>(null);
  const macdRef = useRef<HTMLCanvasElement>(null);
  const adxRef = useRef<HTMLCanvasElement>(null);
  const rsiRef = useRef<HTMLCanvasElement>(null);

  useEffect(() => {
    const charts = [
      new Chart(mainRef.current as HTMLCanvasElement, mainConfig()),
      new Chart(macdRef.current as HTMLCanvasElement, macdConfig()),
      new Chart(adxRef.current as HTMLCanvasElement, adxConfig()),
      new Chart(rsiRef.current as HTMLCanvasElement, rsiConfig()),
    ];
    return () => charts.forEach((c) => c.destroy());
  }, []);

  const cv = (top: number, h: number) => ({ position: 'absolute' as const, left: 0, top, width: W, height: h });
  const rowY = [9.5, 14.3, 19.1, 23.9];

  return (
    <div style={{ position: 'absolute', left: 0, top: 0, width: W, height: 625, background: '#fff', overflow: 'hidden' }}>
      <canvas ref={mainRef} width={W} height={MAIN.h} style={cv(MAIN.top, MAIN.h)} />
      <canvas ref={macdRef} width={W} height={MACD.h} style={cv(MACD.top, MACD.h)} />
      <canvas ref={adxRef} width={W} height={ADX.h} style={cv(ADX.top, ADX.h)} />
      <canvas ref={rsiRef} width={W} height={RSI.h} style={cv(RSI.top, RSI.h)} />

      {/* header */}
      <div style={{ position: 'absolute', left: 13, top: 8, width: 476, height: 21, borderTop: '1px solid #c8c8c8' }} />
      <T x={14} y={2} s={4.4} b>GDX  VanEck Vectors Gold Miners ETF  NYSE</T>
      {[['Open:', '24.24', 'Ask:', '23.94', 'P/E:', '', 'Options:', 'yes'],
        ['High:', '24.28', 'Ask Size:', '12000', 'EPS:', '', 'Annual Dividend:', '0.118'],
        ['Low:', '23.30', 'Bid:', '23.93', 'Last Size:', '100 shrs', 'Yield:', '0.49%'],
        ['Prev Close:', '23.95', 'Bid Size:', '6000', 'VWAP:', '23.88', 'SCTR (ETF):', '99.4']].map((r, i) => (
        <React.Fragment key={i}>
          <T x={14} y={rowY[i]}>{r[0]}</T>
          <T x={48} y={rowY[i]} b r>{r[1]}</T>
          <T x={57} y={rowY[i]}>{r[2]}</T>
          <T x={87} y={rowY[i]} b r>{r[3]}</T>
          <T x={97} y={rowY[i]}>{r[4]}</T>
          <T x={143} y={rowY[i]} b r>{r[5]}</T>
          <T x={155} y={rowY[i]}>{r[6]}</T>
          <T x={188} y={rowY[i]} b r>{r[7]}</T>
        </React.Fragment>
      ))}
      <T x={488} y={0.5} s={3.6} c="#777" r>@StockCharts.com</T>
      <T x={488} y={5} s={4} r>Friday 20-May-2016 1:40 pm</T>
      <T x={452} y={10} s={5} c="#1c3fd8" b>▼</T>
      <T x={488} y={10} s={5} c="#1c3fd8" b r>-0.10%</T>
      <T x={452} y={15.5} s={4.2}>Chg</T>
      <T x={488} y={15.5} s={4.2} b r>-0.02</T>
      <T x={452} y={20} s={4.2}>Last</T>
      <T x={488} y={20} s={4.2} b r>23.93</T>
      <T x={444} y={24.5} s={4.2}>Volume</T>
      <T x={488} y={24.5} s={4.2} b r>31,058,252</T>

      {/* main legend */}
      <T x={14} y={30.8} s={3.8}><span style={{ color: '#1c3fd8' }}>▼</span>GDX (2 min) 23.93</T>
      <T x={14} y={35} s={3.8} c="#2f7f2f"><Sq c="#2f7f2f" />MA(20) 23.72</T>
      <T x={14} y={39.2} s={3.8}><Sq c="#111" />MA(200) 23.84</T>
      <T x={14} y={43.4} s={3.8} c="#2f7f2f"><Sq c="#2f7f2f" />PIVOTS 22.28, 23.17 (23.67) 24.50 (24.96)</T>
      <T x={14} y={47.6} s={3.8}><Sq c="#111" />Volume undef</T>
      <T x={14} y={51.8} s={3.8} c="#e0702a"><Sq c="#e0702a" />Vol by Price (12)</T>

      {/* MACD legend */}
      <T x={14} y={247.5} s={3.8}><Sq c="#111" />MACD(100,200,270) -0.148, <span style={{ color: '#f39a3c' }}>-0.176</span>, <span style={{ color: '#3e8d33' }}>0.027</span></T>

      {/* ADX legend */}
      <T x={14} y={322.3} s={3.6} c="#1e8c1e"><Sq c="#1e8c1e" />ADX(14) 4.80 <span style={{ color: '#7064b8' }}>+DI 23.05</span> <span style={{ color: '#9b1c1c' }}>-DI 22.08</span></T>
      <T x={14} y={326.1} s={3.6} c="#e41e1e"><Sq c="#e41e1e" />ADX(20,8) 2.86 <span style={{ color: '#1e8c1e' }}>+DI 23.64</span> <span style={{ color: '#e08a3a' }}>-DI 22.38</span></T>
      <T x={14} y={329.9} s={3.6} c="#1e1ee4"><Sq c="#1e1ee4" />ADX(20,20) 3.49 <span style={{ color: '#1e8c1e' }}>+DI 23.58</span> <span style={{ color: '#e08a3a' }}>-DI 22.51</span></T>
      <T x={14} y={333.7} s={3.6}><Sq c="#111" />ADX(20,34) 2.56 <span style={{ color: '#1e8c1e' }}>+DI 23.90</span> <span style={{ color: '#e08a3a' }}>-DI 22.90</span></T>

      {/* RSI legend */}
      <T x={14} y={472.3} s={3.6}><Sq c="#2f7f2f" />RSI(14) 64.46</T>
      <T x={14} y={476.1} s={3.6} c="#2f7f2f"><Sq c="#2f7f2f" />RSI(14) 64.46</T>
    </div>
  );
}
